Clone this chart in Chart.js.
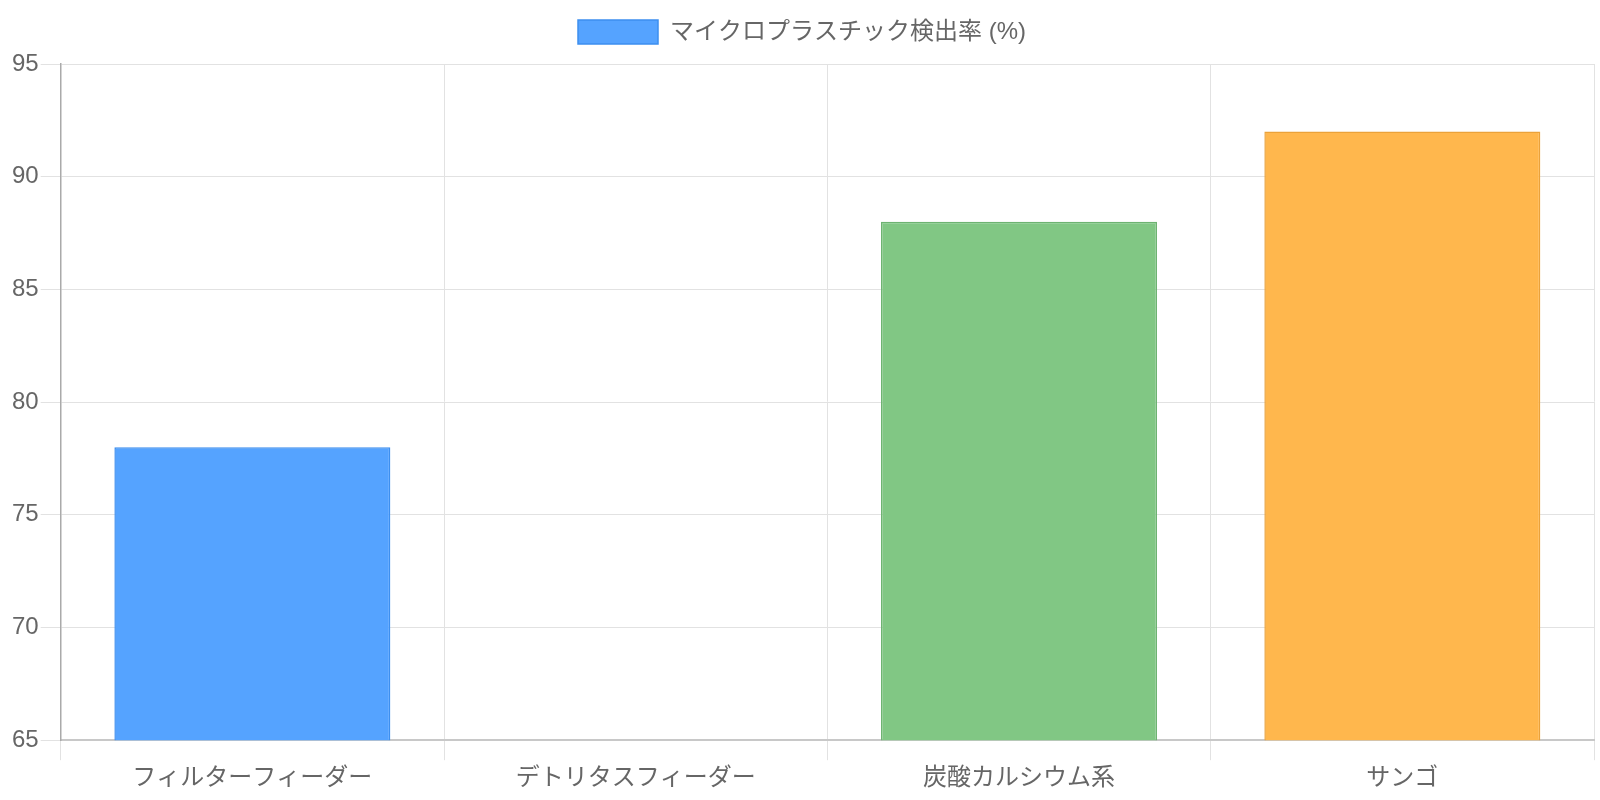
<!DOCTYPE html>
<html>
<head>
<meta charset="utf-8">
<script src="https://cdn.jsdelivr.net/npm/chart.js@4"></script>
<style>
  html, body { margin: 0; padding: 0; background: #fff; }
  #wrap { width: 1600px; height: 800px; }
</style>
</head>
<body>
<div id="wrap"><canvas id="chart"></canvas></div>
<script>
// ── Data ──
const categories = ['フィルターフィーダー', 'デトリタスフィーダー', '炭酸カルシウム系', 'サンゴ'];
const detectionRate = [78, null, 88, 92];
const barColors = ['#55A3FF', '#6FA8DC', '#81C784', '#FFB74D'];
const barBorders = ['#3D8FEF', '#5A94C8', '#6DB371', '#EBA23A'];
const yMin = 65, yMax = 95, yStep = 5;

Chart.defaults.font.family = "'Liberation Sans', Arial, 'Noto Sans CJK JP', sans-serif";
Chart.defaults.font.size = 24;
Chart.defaults.color = '#666';

// extra gap under the legend
const legendGap = {
  id: 'legendGap',
  beforeInit(chart) {
    const fit = chart.legend.fit;
    chart.legend.fit = function () {
      fit.bind(chart.legend)();
      this.height += 10;
    };
  }
};

const ctx = document.getElementById('chart').getContext('2d');
new Chart(ctx, {
  type: 'bar',
  data: {
    labels: categories,
    datasets: [{
      label: 'マイクロプラスチック検出率 (%)',
      data: detectionRate,
      backgroundColor: barColors,
      borderColor: barBorders,
      borderWidth: 1.5,
    }]
  },
  options: {
    responsive: true,
    maintainAspectRatio: false,
    animation: false,
    layout: { padding: { left: 10, right: 6, top: 10, bottom: 3 } },
    plugins: {
      legend: {
        labels: { boxWidth: 80, boxHeight: 24, padding: 10 }
      },
      tooltip: { enabled: false }
    },
    scales: {
      x: {
        grid: { color: '#e2e2e2', tickLength: 20 },
        border: { color: '#c8c8c8', width: 2 },
        ticks: { color: '#666', padding: 4 }
      },
      y: {
        min: yMin, max: yMax,
        grid: { color: '#e2e2e2', tickLength: 20 },
        border: { color: '#aaa', width: 1.5 },
        ticks: { stepSize: yStep, color: '#666', padding: 2 }
      }
    }
  },
  plugins: [legendGap]
});
</script>
</body>
</html>
